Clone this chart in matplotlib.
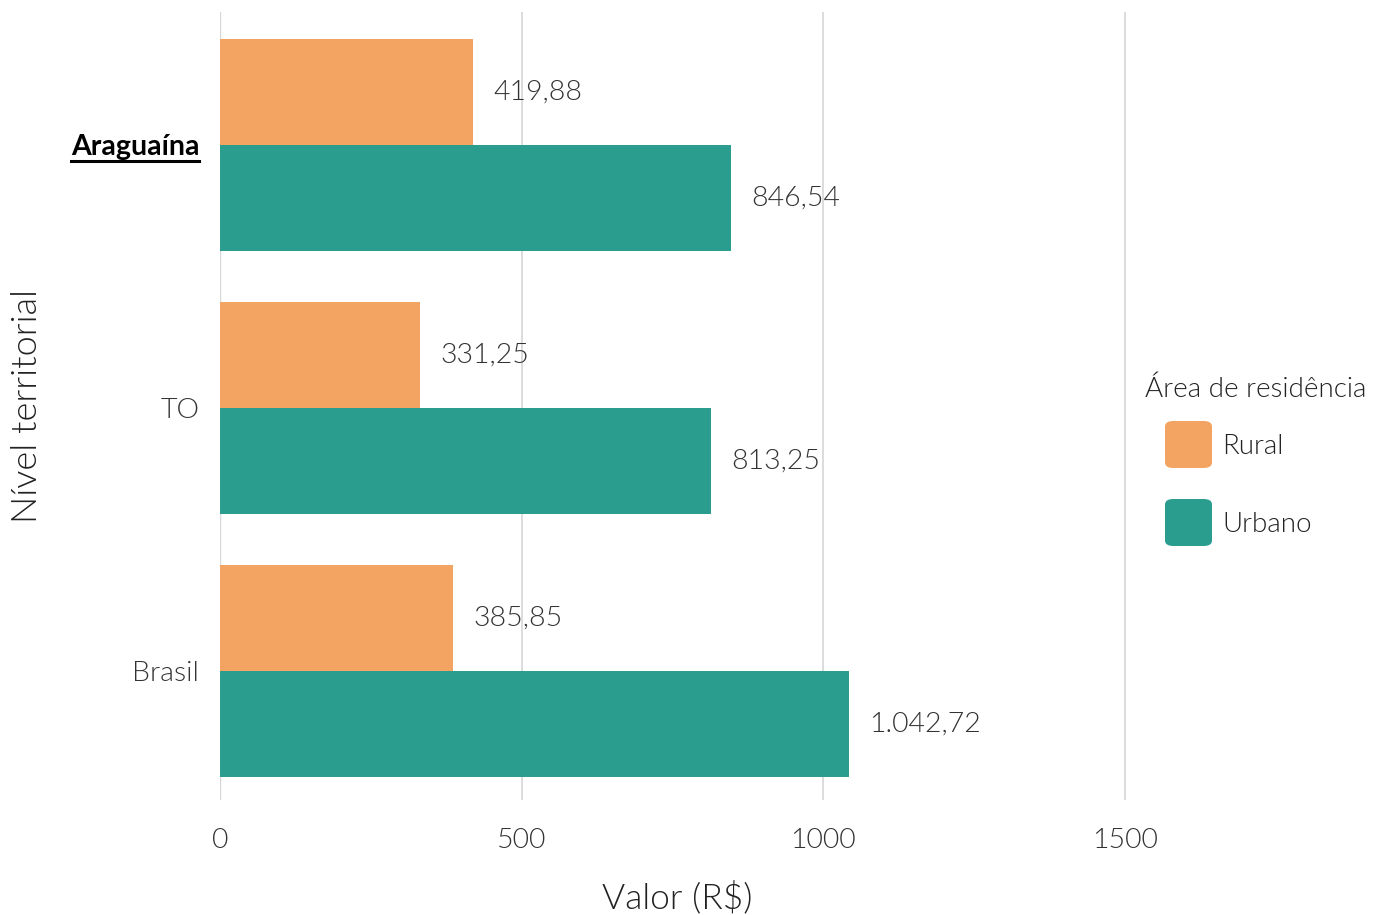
import matplotlib
matplotlib.use("Agg")
import matplotlib.pyplot as plt
from matplotlib.patches import FancyBboxPatch
from matplotlib.lines import Line2D

plt.rcParams['font.family'] = ['Lato', 'DejaVu Sans']

# dados
niveis = ['Araguaína', 'TO', 'Brasil']
rural = [419.88, 331.25, 385.85]
urbano = [846.54, 813.25, 1042.72]
series = ['Rural', 'Urbano']
cores = ['#F4A462', '#2A9D8F']

PESO = 300
TAM = 20.5


def fmt_br(v):
    s = '{:,.2f}'.format(v)
    return s.replace(',', 'X').replace('.', ',').replace('X', '.')


fig = plt.figure(figsize=(13.8, 9.15), dpi=100)
ax = fig.add_axes([220 / 1380, 1 - 800 / 915, 915 / 1380, 788 / 915])

pos = list(range(len(niveis)))
h = 0.403
ax.barh([p - h / 2 for p in pos], rural, height=h, color=cores[0], zorder=2)
ax.barh([p + h / 2 for p in pos], urbano, height=h, color=cores[1], zorder=2)

for p, r, u in zip(pos, rural, urbano):
    ax.text(r + 34, p - h / 2, fmt_br(r), va='center', ha='left',
            fontsize=TAM, fontweight=PESO, color='#333333')
    ax.text(u + 34, p + h / 2, fmt_br(u), va='center', ha='left',
            fontsize=TAM, fontweight=PESO, color='#333333')

ax.set_xlim(0, 1517)
ax.set_ylim(2.49, -0.505)
ax.set_xticks([0, 500, 1000, 1500])
ax.set_xticklabels(['0', '500', '1000', '1500'])
ax.set_yticks(pos)
ax.set_yticklabels(niveis)
ax.grid(axis='x', color='#d9d9d9', linewidth=1.3, zorder=0)
ax.axvline(0, color='#c8c8c8', linewidth=1.6, zorder=1)
for s in ax.spines.values():
    s.set_visible(False)
ax.tick_params(length=0)
for lab in ax.get_xticklabels() + ax.get_yticklabels():
    lab.set_fontsize(TAM)
    lab.set_fontweight(PESO)
    lab.set_color('#333333')
ax.tick_params(axis='x', pad=20)
ax.tick_params(axis='y', pad=15)
bold = ax.get_yticklabels()[0]
bold.set_fontweight('bold')
bold.set_color('black')

ax.set_xlabel('Valor (R$)', fontsize=25.5, fontweight=PESO, color='#222222', labelpad=20)
ax.set_ylabel('Nível territorial', fontsize=26, fontweight=PESO, color='#222222', labelpad=20)

# sublinhado do município
fig.canvas.draw()
bb = bold.get_window_extent()
y_line = bb.y0 - 1
fig.add_artist(Line2D([bb.x0 / 1380, bb.x1 / 1380], [y_line / 915, y_line / 915],
                      color='black', linewidth=2.2))

# legenda
fig.text(1145 / 1380, 1 - 389 / 915, 'Área de residência', fontsize=20,
         fontweight=PESO, color='#222222', va='center', ha='left')
for i, (nome, cor) in enumerate(zip(series, cores)):
    y0 = 421 + i * 78
    fig.add_artist(FancyBboxPatch((1165 / 1380, 1 - (y0 + 47) / 915), 47 / 1380, 47 / 915,
                                  boxstyle='round,pad=0,rounding_size=0.006',
                                  transform=fig.transFigure, color=cor, linewidth=0))
    fig.text(1222 / 1380, 1 - (y0 + 25) / 915, nome, fontsize=20,
             fontweight=PESO, color='#222222', va='center', ha='left')

plt.savefig('out.png')
